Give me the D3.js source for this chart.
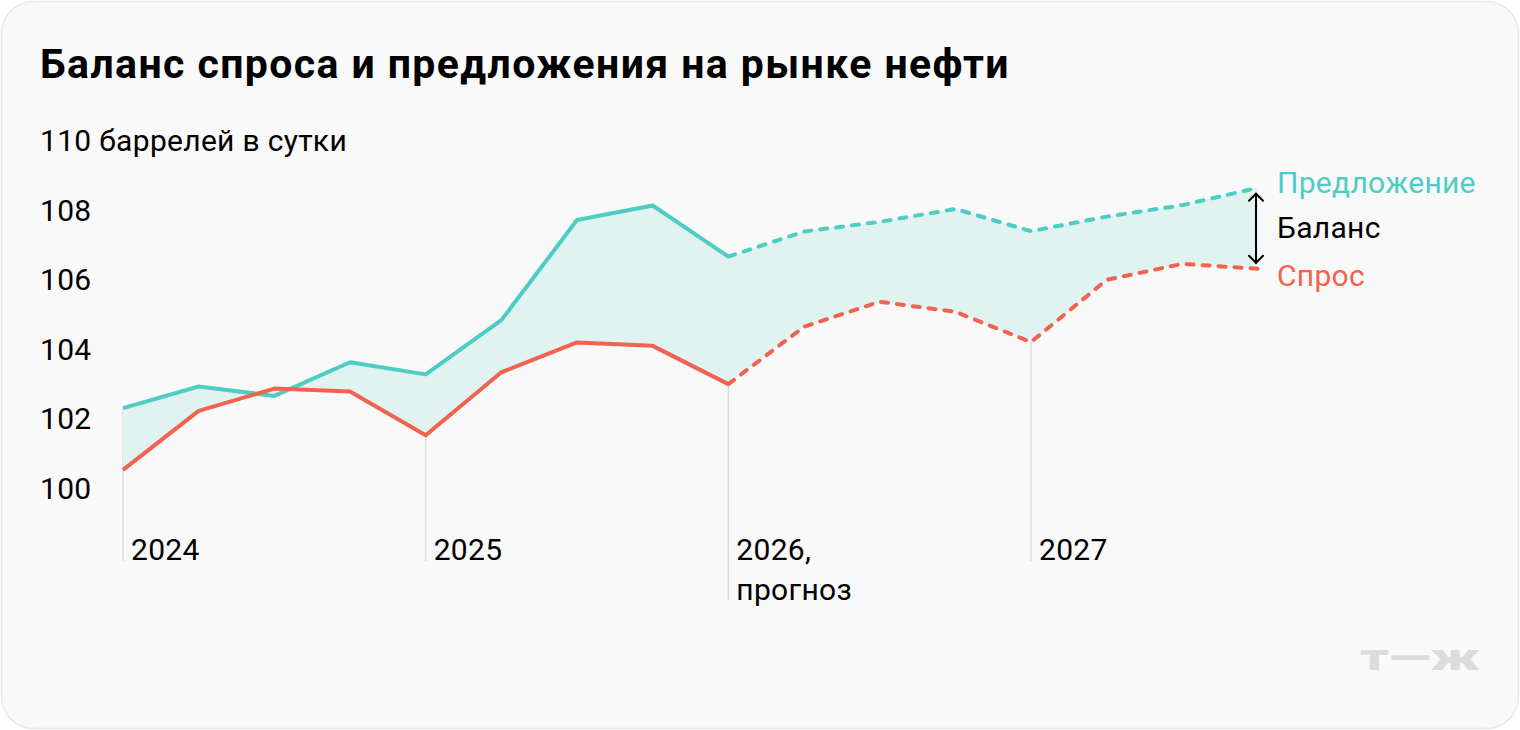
<!DOCTYPE html>
<html lang="ru">
<head>
<meta charset="UTF-8">
<title>Баланс спроса и предложения на рынке нефти</title>
<script src="https://d3js.org/d3.v7.min.js"></script>
<style>
  body { margin: 0; background: #fff; }
  text { font-family: Roboto, "Noto Sans", sans-serif; }
</style>
</head>
<body>
<svg width="1520" height="730"></svg>
<script>
  // quarterly data, 2024 Q1 .. 2027 Q4 (million barrels per day)
  const quarters = ["2024 Q1","2024 Q2","2024 Q3","2024 Q4","2025 Q1","2025 Q2","2025 Q3","2025 Q4",
                    "2026 Q1","2026 Q2","2026 Q3","2026 Q4","2027 Q1","2027 Q2","2027 Q3","2027 Q4"];
  const supply = [102.3, 102.92, 102.65, 103.62, 103.27, 104.83, 107.71, 108.13,
                  106.66, 107.38, 107.66, 108.03, 107.39, 107.81, 108.14, 108.64];
  const demand = [100.52, 102.22, 102.86, 102.78, 101.52, 103.33, 104.19, 104.09,
                  102.99, 104.64, 105.36, 105.07, 104.2, 105.99, 106.45, 106.31];
  const forecastFrom = 8; // first forecast quarter (dashed after this)
  const yearTicks = [
    { i: 0, lines: ["2024"] },
    { i: 4, lines: ["2025"] },
    { i: 8, lines: ["2026,", "прогноз"] },
    { i: 12, lines: ["2027"] }
  ];
  const yTicks = [100, 102, 104, 106, 108, 110];

  const teal = "#4ecdc4", red = "#f2634f";
  const fs = 30, ls = 0.3;

  const svg = d3.select("svg");

  // card
  svg.append("rect")
      .attr("x", 1.5).attr("y", 1.5)
      .attr("width", 1517).attr("height", 727)
      .attr("rx", 32)
      .attr("fill", "#f9f9f9")
      .attr("stroke", "#e8e8e8")
      .attr("stroke-width", 1.5);

  svg.append("text")
      .attr("x", 40).attr("y", 78)
      .attr("font-size", 41)
      .attr("font-weight", 700)
      .attr("letter-spacing", 1.4)
      .attr("fill", "#000")
      .text("Баланс спроса и предложения на рынке нефти");

  const x = d3.scaleLinear().domain([0, quarters.length - 1]).range([123, 1258]);
  const y = d3.scaleLinear().domain([100, 110]).range([488, 140.5]);

  // y labels
  svg.append("g").selectAll("text")
    .data(yTicks)
    .join("text")
      .attr("x", 40)
      .attr("y", d => y(d))
      .attr("dy", "0.35em")
      .attr("font-size", fs)
      .attr("letter-spacing", ls)
      .attr("fill", "#000")
      .text(d => d === 110 ? "110 баррелей в сутки" : d);

  // year guide lines and labels
  const yr = svg.append("g").selectAll("g")
    .data(yearTicks)
    .join("g");
  yr.append("line")
      .attr("x1", d => x(d.i)).attr("x2", d => x(d.i))
      .attr("y1", d => y(supply[d.i]))
      .attr("y2", d => d.lines.length > 1 ? 600 : 561)
      .attr("stroke", "#dcdcdc")
      .attr("stroke-width", 1.5);
  yr.append("text")
      .attr("y", 560)
      .attr("font-size", fs)
      .attr("letter-spacing", ls)
      .attr("fill", "#000")
      .selectAll("tspan")
      .data(d => d.lines.map(l => ({ l, x: x(d.i) + 8 })))
      .join("tspan")
        .attr("x", t => t.x)
        .attr("dy", (t, k) => k ? 40 : 0)
        .text(t => t.l);

  // area between supply and demand
  const idx = d3.range(quarters.length);
  svg.append("path")
      .datum(idx)
      .attr("fill", "#e0f3f0")
      .attr("d", d3.area()
        .x(i => x(i))
        .y0(i => y(demand[i]))
        .y1(i => y(supply[i])));

  // lines: solid history + dashed forecast
  function drawLine(vals, color) {
    const line = d3.line().x(i => x(i)).y(i => y(vals[i]));
    svg.append("path")
        .datum(idx.slice(0, forecastFrom + 1))
        .attr("fill", "none")
        .attr("stroke", color)
        .attr("stroke-width", 4)
        .attr("stroke-linejoin", "round")
        .attr("d", line);
    svg.append("path")
        .datum(idx.slice(forecastFrom))
        .attr("fill", "none")
        .attr("stroke", color)
        .attr("stroke-width", 4)
        .attr("stroke-linecap", "round")
        .attr("stroke-linejoin", "round")
        .attr("stroke-dasharray", "7 9")
        .attr("d", line);
  }
  drawLine(supply, teal);
  drawLine(demand, red);

  // balance arrow at the last quarter
  const last = quarters.length - 1;
  const ax = x(last) - 2;
  const ay1 = y(supply[last]) + 6, ay2 = y(demand[last]) - 6;
  const arrow = svg.append("g")
      .attr("fill", "none")
      .attr("stroke", "#000")
      .attr("stroke-width", 2)
      .attr("stroke-linecap", "round");
  arrow.append("line").attr("x1", ax).attr("x2", ax).attr("y1", ay1).attr("y2", ay2);
  arrow.append("path").attr("d", `M${ax - 7},${ay1 + 7}L${ax},${ay1}L${ax + 7},${ay1 + 7}`);
  arrow.append("path").attr("d", `M${ax - 7},${ay2 - 7}L${ax},${ay2}L${ax + 7},${ay2 - 7}`);

  // legend labels
  const lx = x(last) + 19;
  const legend = [
    { t: "Предложение", c: teal, y: y(supply[last]) - 5 },
    { t: "Баланс", c: "#000", y: (y(supply[last]) + y(demand[last])) / 2 - 1 },
    { t: "Спрос", c: red, y: y(demand[last]) + 6.5 }
  ];
  svg.append("g").selectAll("text")
    .data(legend)
    .join("text")
      .attr("x", lx)
      .attr("y", d => d.y)
      .attr("dy", "0.35em")
      .attr("font-size", fs)
      .attr("letter-spacing", ls)
      .attr("fill", d => d.c)
      .text(d => d.t);

  // watermark
  svg.append("text")
      .attr("x", 1360).attr("y", 670)
      .attr("font-size", 36)
      .attr("font-weight", 900)
      .attr("fill", "#dcdcdc")
      .attr("font-family", "'DejaVu Sans', sans-serif")
      .attr("textLength", 120)
      .attr("lengthAdjust", "spacingAndGlyphs")
      .text("т—ж");
</script>
</body>
</html>
